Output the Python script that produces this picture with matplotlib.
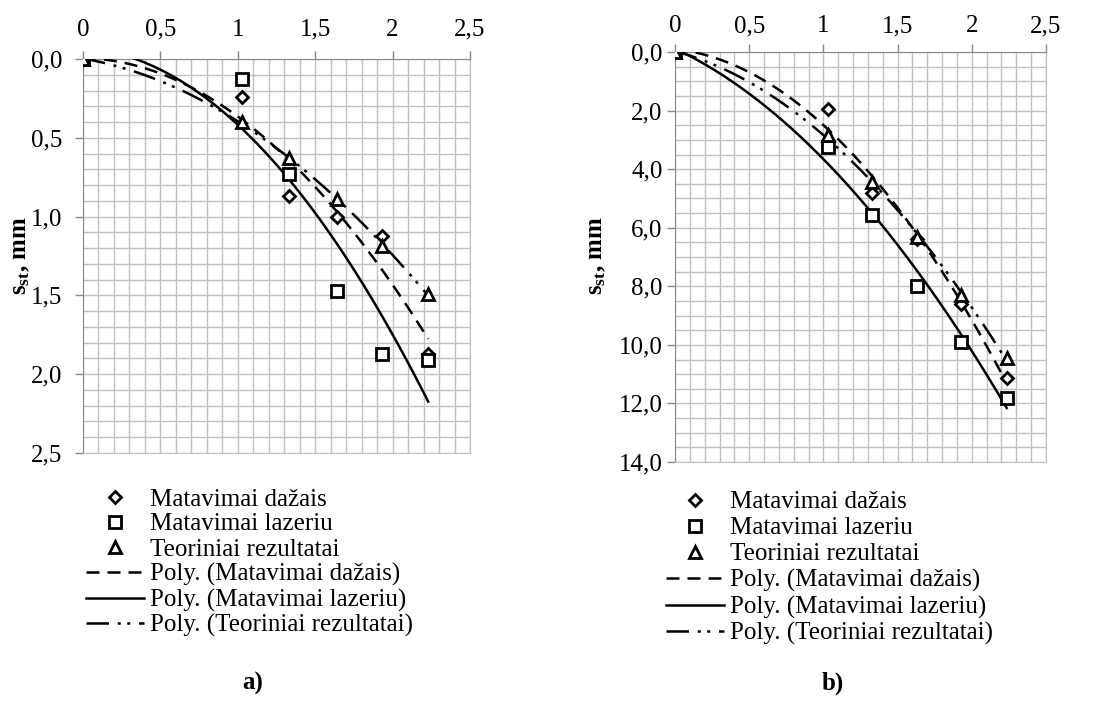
import numpy as np
import matplotlib
matplotlib.use("Agg")
import matplotlib.pyplot as plt
from matplotlib.ticker import MultipleLocator

plt.rcParams['font.family'] = 'serif'
plt.rcParams['font.serif'] = ['Liberation Serif', 'DejaVu Serif']
plt.rcParams['mathtext.fontset'] = 'custom'
plt.rcParams['mathtext.rm'] = 'Liberation Serif'
plt.rcParams['mathtext.bf'] = 'Liberation Serif:bold'

# values
x_a = [0, 1.03, 1.33, 1.64, 1.93, 2.23]
dazais_a = [0, 0.24, 0.87, 1.00, 1.12, 1.87]
lazeriu_a = [0, 0.13, 0.73, 1.47, 1.87, 1.91]
teor_a = [0, 0.40, 0.63, 0.89, 1.185, 1.49]

x_b = [0, 1.03, 1.33, 1.63, 1.93, 2.235]
dazais_b = [0, 1.93, 4.80, 6.40, 8.60, 11.13]
lazeriu_b = [0, 3.24, 5.55, 8.00, 9.90, 11.80]
teor_b = [0, 2.85, 4.44, 6.30, 8.30, 10.45]

xticklabels = ["0", "0,5", "1", "1,5", "2", "2,5"]
yticklabels_a = ["0,0", "0,5", "1,0", "1,5", "2,0", "2,5"]
yticklabels_b = ["0,0", "2,0", "4,0", "6,0", "8,0", "10,0", "12,0", "14,0"]

names = ["Matavimai dažais", "Matavimai lazeriu", "Teoriniai rezultatai"]

FS = 18
LW = 1.8
styles = [(0, (5.2, 3.2)), '-', (0, (9.0, 3.5, 1.2, 2.6, 1.2, 3.5))]
markers = [('D', 6.0), ('s', 8.5), ('^', 8.0)]


def draw(ax, x, series, ymax, ystep, yminor, yticklabels, ypad, xpad):
    x = np.array(x)
    xs = np.linspace(0, x.max(), 200)
    pts = []
    for (m, ms), y in zip(markers, series):
        p, = ax.plot(x, y, linestyle='none', marker=m, ms=ms, mfc='white',
                     mec='black', mew=2.0, zorder=4)
        pts.append(p)
    fits = []
    for ls, y in zip(styles, series):
        c = np.polyfit(x, y, 2)
        f, = ax.plot(xs, np.polyval(c, xs), color='black', lw=LW, ls=ls, zorder=3)
        fits.append(f)

    ax.set_xlim(0, 2.5)
    ax.set_ylim(ymax, 0)
    ax.xaxis.tick_top()
    ax.set_xticks(np.arange(0, 2.51, 0.5))
    ax.set_xticklabels(xticklabels)
    ax.set_yticks(np.arange(0, ymax + 0.01, ystep))
    ax.set_yticklabels(yticklabels)
    ax.xaxis.set_minor_locator(MultipleLocator(0.1))
    ax.yaxis.set_minor_locator(MultipleLocator(yminor))
    ax.grid(which='both', color='#c0c0c0', lw=1.0)
    ax.tick_params(which='major', direction='out', length=6, width=1.0,
                   color='#888888', labelsize=FS)
    ax.tick_params(axis='y', pad=ypad)
    ax.tick_params(axis='x', pad=xpad)
    ax.tick_params(which='minor', length=0)
    for s in ['left', 'top']:
        ax.spines[s].set_color('#888888')
    for s in ['right', 'bottom']:
        ax.spines[s].set_color('#c0c0c0')
    ax.set_axisbelow(True)
    return pts + fits


fig = plt.figure(figsize=(10.93, 7.01), dpi=100)
ax1 = fig.add_axes([83 / 1093, 1 - 453 / 701, 387 / 1093, 394 / 701])
ax2 = fig.add_axes([675 / 1093, 1 - 462 / 701, 371 / 1093, 410 / 701])

h1 = draw(ax1, x_a, [dazais_a, lazeriu_a, teor_a], 2.5, 0.5, 0.1, yticklabels_a, 9, 7)
h2 = draw(ax2, x_b, [dazais_b, lazeriu_b, teor_b], 14, 2, 0.5, yticklabels_b, 3, 4.5)

labels = names + ["Poly. (" + n + ")" for n in names]

for ax, h, anchor, sp in [(ax1, h1, (86 / 1093, 1 - 488 / 701), 0.1),
                          (ax2, h2, (666 / 1093, 1 - 491 / 701), 0.14)]:
    fig.legend(h, labels, loc='upper left', bbox_to_anchor=anchor,
               frameon=False, fontsize=FS, borderpad=0, borderaxespad=0,
               handlelength=2.3, handletextpad=0.25, labelspacing=sp)

fig.text(20 / 1093, 1 - 256 / 701, r"$\mathbf{s_{st}}$, mm", rotation=90,
         ha='center', va='center', fontsize=FS, fontweight='bold')
fig.text(597 / 1093, 1 - 256 / 701, r"$\mathbf{s_{st}}$, mm", rotation=90,
         ha='center', va='center', fontsize=FS, fontweight='bold')

fig.text(253 / 1093, 1 - 683 / 701, "a)", ha='center', va='center',
         fontsize=FS, fontweight='bold')
fig.text(833 / 1093, 1 - 683 / 701, "b)", ha='center', va='center',
         fontsize=FS, fontweight='bold')

fig.savefig("out.png", dpi=100)
